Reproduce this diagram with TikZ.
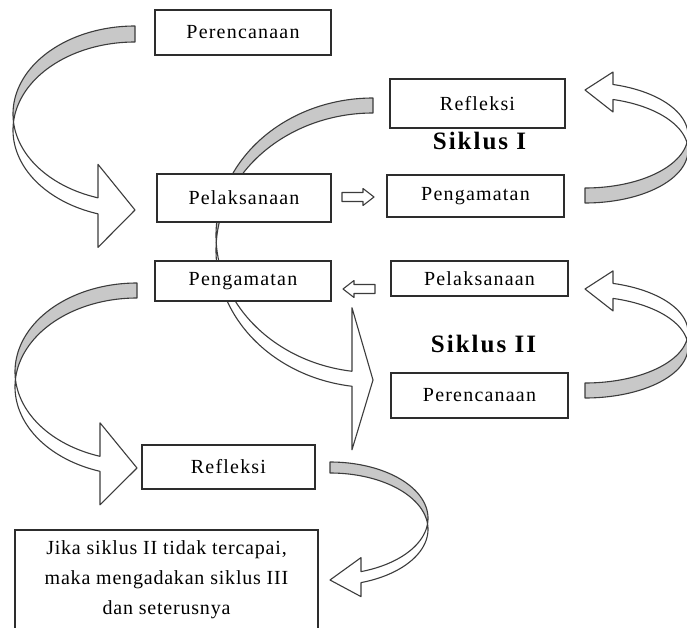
\documentclass[tikz,border=0pt]{standalone}
\usepackage{fontspec}
\setmainfont{Liberation Serif}
\newfontfamily\boxfont[LetterSpace=6]{Liberation Serif}
\newfontfamily\jikafont[LetterSpace=4]{Liberation Serif}
\newfontfamily\sikfont[LetterSpace=8]{Liberation Serif}
\definecolor{bandgray}{RGB}{200,200,200}
\definecolor{arrline}{RGB}{60,60,60}
\definecolor{boxline}{RGB}{45,45,45}
% #1 transform, #2 w, #3 h, #4 shaft thickness, #5 head width, #6 head length
\newcommand{\blockcurve}[6]{%
 \begin{scope}[#1]
  \pgfmathsetmacro{\cw}{#2}%
  \pgfmathsetmacro{\ch}{#3}%
  \pgfmathsetmacro{\cth}{#4}%
  \pgfmathsetmacro{\caw}{#5}%
  \pgfmathsetmacro{\cah}{#6}%
  \pgfmathsetmacro{\chR}{\ch/2-(\cth+\caw)/4}%
  \pgfmathsetmacro{\cdy}{\chR*sqrt(1-(\cah/\cw)^2)}%
  \pgfmathsetmacro{\cyf}{\chR+\cdy}%
  \pgfmathsetmacro{\cys}{\chR+\cth+\cdy}%
  \pgfmathsetmacro{\cdh}{(\caw-\cth)/2}%
  \pgfmathsetmacro{\cyq}{\cyf-\cdh}%
  \pgfmathsetmacro{\cye}{\cys+\cdh}%
  \pgfmathsetmacro{\cyx}{\ch-\caw/2}%
  \pgfmathsetmacro{\cxa}{\cw-\cah}%
  \pgfmathsetmacro{\cdel}{asin(\cth/(2*\chR))}%
  \pgfmathsetmacro{\tca}{180-\cdel}%
  \pgfmathsetmacro{\tcb}{180+\cdel}%
  \pgfmathsetmacro{\tb}{acos(-\cah/\cw)}%
  \filldraw[backpart] plot[domain=270:\tca, samples=70] ({\cw+\cw*cos(\x)},{\chR+\chR*sin(\x)})
     -- plot[domain=\tcb:270, samples=70] ({\cw+\cw*cos(\x)},{\chR+\cth+\chR*sin(\x)}) -- cycle;
  \filldraw[frontpart] plot[domain=\tcb:\tb, samples=70] ({\cw+\cw*cos(\x)},{\chR+\cth+\chR*sin(\x)})
     -- (\cxa,\cye) -- (\cw,\cyx) -- (\cxa,\cyq) -- (\cxa,\cyf)
     -- plot[domain=\tb:\tca, samples=70] ({\cw+\cw*cos(\x)},{\chR+\chR*sin(\x)}) -- cycle;
 \end{scope}}
% small block arrow: #1 transform (origin = tail centre, pointing +x)
\newcommand{\smallblock}[1]{%
 \begin{scope}[#1]
  \filldraw[frontpart] (0,-4.5) -- (21,-4.5) -- (21,-8.5) -- (32,0) -- (21,8.5) -- (21,4.5) -- (0,4.5) -- cycle;
 \end{scope}}
\begin{document}
\begin{tikzpicture}[x=1pt,y=-1pt,
  box/.style={draw=boxline, line width=1.3pt, fill=white, inner sep=0pt,
    font=\boxfont\fontsize{20}{22}\selectfont},
  backpart/.style={fill=bandgray, draw=arrline, line width=1.1pt, line join=round},
  frontpart/.style={fill=white, draw=arrline, line width=1.1pt, line join=round},
  sik/.style={font=\sikfont\bfseries\fontsize{25}{28}\selectfont, inner sep=0pt}]
\useasboundingbox (0,0) rectangle (687,628);
\fill[white] (0,0) rectangle (687,628);
% curved block arrows
\blockcurve{shift={(13,26)}}{122}{225.5}{16}{83}{37}
\blockcurve{shift={(15,283)}}{122}{226}{15}{82}{37}
\blockcurve{shift={(216,98)}}{157}{353}{15}{142}{21}
\blockcurve{shift={(688,203)},xscale=-1,yscale=-1}{103}{133}{15}{40}{28}
\blockcurve{shift={(688,398)},xscale=-1,yscale=-1}{103}{129}{15}{40}{28}
\blockcurve{shift={(428,462)},xscale=-1}{98}{137.5}{11}{39}{31}
% boxes
\node[box, minimum width=176pt, minimum height=45pt] (per1) at (243,32.5) {Perencanaan};
\node[box, minimum width=174pt, minimum height=48pt] (pel1) at (244,198) {Pelaksanaan};
\node[box, minimum width=176pt, minimum height=40pt] (pen1) at (243,281) {Pengamatan};
\node[box, minimum width=175pt, minimum height=49pt] (ref1) at (477.5,103.5) {Refleksi};
\node[box, minimum width=177pt, minimum height=42pt] (pen2) at (475.5,196) {Pengamatan};
\node[box, minimum width=177pt, minimum height=35pt] (pel2) at (479.5,278.5) {Pelaksanaan};
\node[box, minimum width=177pt, minimum height=45pt] (per2) at (479.5,395.5) {Perencanaan};
\node[box, minimum width=173pt, minimum height=44pt] (ref2) at (228.5,467) {Refleksi};
\node[box, minimum width=303pt, minimum height=100pt, align=center,
  font=\jikafont\fontsize{20}{30}\selectfont] (jika) at (166.5,580)
  {Jika siklus II tidak tercapai,\\maka mengadakan siklus III\\dan seterusnya};
% labels
\node[sik] (s1) at (479.5,140.5) {Siklus I};
\node[sik] (s2) at (483.5,343.5) {Siklus II};
% small arrows
\smallblock{shift={(342,197)}}
\smallblock{shift={(375,289)},xscale=-1}
\end{tikzpicture}
\end{document}
